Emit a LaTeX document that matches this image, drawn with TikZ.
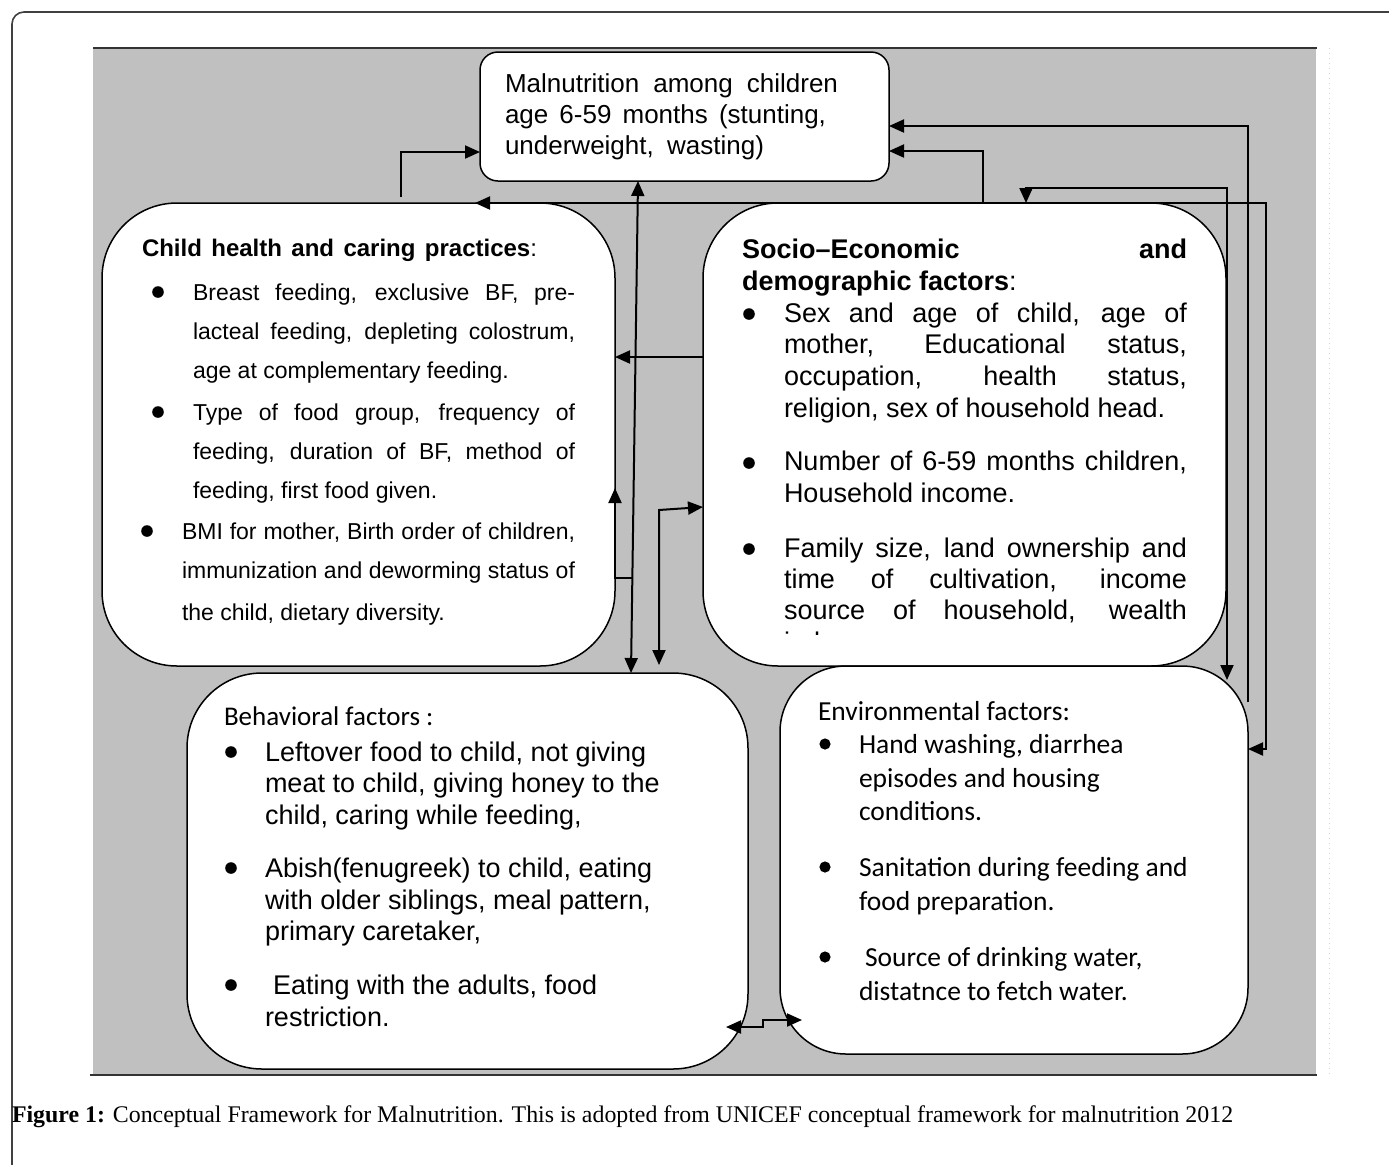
\documentclass[tikz,border=0pt]{standalone}
\usepackage{fontspec}
\setmainfont{Liberation Serif}
\newfontfamily\arialf{Liberation Sans}
\newfontfamily\calf{Carlito}
\usetikzlibrary{arrows.meta}
\definecolor{panel}{HTML}{C0C0C0}
\newcommand\jt[2]{\makebox[#1pt][s]{#2}}
\tikzset{
  box/.style={draw=black, line width=0.75pt, fill=white, rectangle, inner sep=0pt, outer sep=0pt, rounded corners=#1},
  tl/.style={anchor=base west, inner sep=0pt, outer sep=0pt},
  fM/.style={font=\arialf\fontsize{13}{16}\selectfont},
  fC/.style={font=\arialf\fontsize{11.5}{14}\selectfont},
  fCt/.style={font=\arialf\fontsize{12}{14}\selectfont},
  fA/.style={font=\arialf\fontsize{13.5}{16}\selectfont},
  fK/.style={font=\calf\fontsize{13.75}{16}\selectfont},
  fKt/.style={font=\calf\fontsize{13.5}{16}\selectfont},
  arr/.style={line width=1pt, -{Triangle[length=7.5pt,width=6.5pt]}},
  darr/.style={line width=1pt, {Triangle[length=7.5pt,width=6.5pt]}-{Triangle[length=7.5pt,width=6.5pt]}},
}
\begin{document}
\begin{tikzpicture}[x=0.5pt,y=-0.5pt]
\useasboundingbox (0,0) rectangle (1389,1164);
\clip (0,0) rectangle (1389,1164);
% outer frame and panel
\draw[line width=0.8pt, black!75, rounded corners=6pt] (12,1400) -- (12,12) -- (1500,12);
\fill[panel] (93,48) rectangle (1316,1075);
\draw[line width=1pt, black!80] (93,48) -- (1317,48);
\draw[line width=1pt, black!80] (90,1075) -- (1317,1075);
\draw[gray!35, dotted, line width=0.5pt] (1329,48) -- (1329,1075);

% boxes
\node[box=9pt, minimum width=204.5pt, minimum height=64.5pt] (mal) at (684.5,116.5) {};
\node[box=37.5pt, minimum width=256.5pt, minimum height=231.5pt] (child) at (358.5,434.5) {};
\node[box=37.5pt, minimum width=261.5pt, minimum height=231.5pt] (socio) at (964.5,434.5) {};
\node[box=37.5pt, minimum width=280.5pt, minimum height=198pt] (beh) at (467.5,871) {};
\node[box=33pt, minimum width=234pt, minimum height=194pt] (env) at (1014,860) {};

% malnutrition text
\node[tl,fM] (m1) at (505,92) {\jt{166.5}{Malnutrition among children}};
\node[tl,fM] (m2) at (505,123) {\jt{160.5}{age 6-59 months (stunting,}};
\node[tl,fM] (m3) at (505,154) {\jt{129.5}{underweight, wasting)}};

% child health text
\node[tl,fCt] (c0) at (142,256) {\jt{197.5}{\bfseries Child health and caring practices\mdseries:}};
\fill (158,292) circle (2.9pt);
\node[tl,fC] (c1) at (193,300) {\jt{191}{Breast feeding, exclusive BF, pre-}};
\node[tl,fC] (c2) at (193,339) {\jt{191}{lacteal feeding, depleting colostrum,}};
\node[tl,fC] (c3) at (193,378) {age at complementary feeding.};
\fill (158,412) circle (2.9pt);
\node[tl,fC] (c4) at (193,420) {\jt{191}{Type of food group, frequency of}};
\node[tl,fC] (c5) at (193,459) {\jt{191}{feeding, duration of BF, method of}};
\node[tl,fC] (c6) at (193,498) {feeding, first food given.};
\fill (147,531) circle (2.9pt);
\node[tl,fC] (c7) at (182,539) {\jt{196.5}{BMI for mother, Birth order of children,}};
\node[tl,fC] (c8) at (182,578) {\jt{196.5}{immunization and deworming status of}};
\node[tl,fC] (c9) at (182,620) {the child, dietary diversity.};

% socio-economic text
\node[tl,fA] (s0) at (742,258) {\jt{222.5}{\bfseries Socio–Economic and}};
\node[tl,fA] (s1) at (742,290) {\bfseries demographic factors\mdseries:};
\fill (749,314) circle (2.9pt);
\node[tl,fA] (s2) at (784,322) {\jt{201.5}{Sex and age of child, age of}};
\node[tl,fA] (s3) at (784,353) {\jt{201.5}{mother, Educational status,}};
\node[tl,fA] (s4) at (784,385) {\jt{201.5}{occupation, health status,}};
\node[tl,fA] (s5) at (784,417) {religion, sex of household head.};
\fill (749,463) circle (2.9pt);
\node[tl,fA] (s6) at (784,470) {\jt{201.5}{Number of 6-59 months children,}};
\node[tl,fA] (s7) at (784,502) {Household income.};
\fill (749,549) circle (2.9pt);
\node[tl,fA] (s8) at (784,557) {\jt{201.5}{Family size, land ownership and}};
\node[tl,fA] (s9) at (784,588) {\jt{201.5}{time of cultivation, income}};
\node[tl,fA] (s10) at (784,619) {\jt{201.5}{source of household, wealth}};
\begin{scope}
\clip (770,600) rectangle (1200,634);
\node[tl,fA] (s11) at (784,651) {index};
\end{scope}

% behavioral text
\node[tl,fKt] (b0) at (224,725) {Behavioral factors :};
\fill (231,752) circle (2.9pt);
\node[tl,fA] (b1) at (265,761) {Leftover food to child, not giving};
\node[tl,fA] (b2) at (265,792) {meat to child, giving honey to the};
\node[tl,fA] (b3) at (265,824) {child, caring while feeding,};
\fill (231,868) circle (2.9pt);
\node[tl,fA] (b4) at (265,877) {Abish(fenugreek) to child, eating};
\node[tl,fA] (b5) at (265,909) {with older siblings, meal pattern,};
\node[tl,fA] (b6) at (265,940) {primary caretaker,};
\fill (231,985) circle (2.9pt);
\node[tl,fA] (b7) at (273,994) {Eating with the adults, food};
\node[tl,fA] (b8) at (265,1026) {restriction.};

% environmental text
\node[tl,fK] (e0) at (818,720) {Environmental factors:};
\fill (825,744) circle (2.8pt);
\node[tl,fK] (e1) at (859,753) {Hand washing, diarrhea};
\node[tl,fK] (e2) at (859,787) {episodes and housing};
\node[tl,fK] (e3) at (859,820) {conditions.};
\fill (825,867) circle (2.8pt);
\node[tl,fK] (e4) at (859,876) {Sanitation during feeding and};
\node[tl,fK] (e5) at (859,910) {food preparation.};
\fill (825,957) circle (2.8pt);
\node[tl,fK] (e6) at (865,966) {Source of drinking water,};
\node[tl,fK] (e7) at (859,1000) {distatnce to fetch water.};

% caption
\node[tl] (cap) at (12,1122) {\resizebox{610.5pt}{!}{\textbf{Figure 1:} Conceptual Framework for Malnutrition. This is adopted from UNICEF conceptual framework for malnutrition 2012}};

% connector coordinates
\coordinate (pA) at (401,197);
\coordinate (yA) at (0,152);
\coordinate (bL) at (475,203);
\coordinate (bR) at (1266,203);
\coordinate (yB) at (0,749);
\coordinate (pC) at (983,203);
\coordinate (yC) at (0,151);
\coordinate (pD) at (1248,702);
\coordinate (yD) at (0,126);
\coordinate (eT) at (1026,188);
\coordinate (eR) at (1227,188);
\coordinate (eB) at (1227,680);
\coordinate (yM) at (0,357);
\coordinate (xT) at (638,0);
\coordinate (xB) at (631,0);
\coordinate (j1) at (632,578);
\coordinate (cT) at (615,488);
\coordinate (gB) at (659,665);
\coordinate (gM) at (659,510);
\coordinate (yG) at (0,507);
\coordinate (hL) at (726,1027);
\coordinate (h1) at (763,1027);
\coordinate (h2) at (763,1020);
\coordinate (hR) at (802,1020);

% connectors
\draw[arr] (pA) |- (mal.west |- yA);
\draw[darr] (bL) -- (bR) |- (env.east |- yB);
\draw[arr] (pC) |- (mal.east |- yC);
\draw[arr] (pD) |- (mal.east |- yD);
\draw[darr] (socio.north -| eT) -- (eT) -- (eR) -- (eB);
\draw[arr] (socio.west |- yM) -- (child.east |- yM);
\draw[darr] (mal.south -| xT) -- (beh.north -| xB);
\draw[arr] (j1) -- (child.east |- j1) -- (cT);
\draw[darr] (gB) -- (gM) -- (socio.west |- yG);
\draw[darr] (hL) -- (h1) -- (h2) -- (hR);
\end{tikzpicture}
\end{document}
